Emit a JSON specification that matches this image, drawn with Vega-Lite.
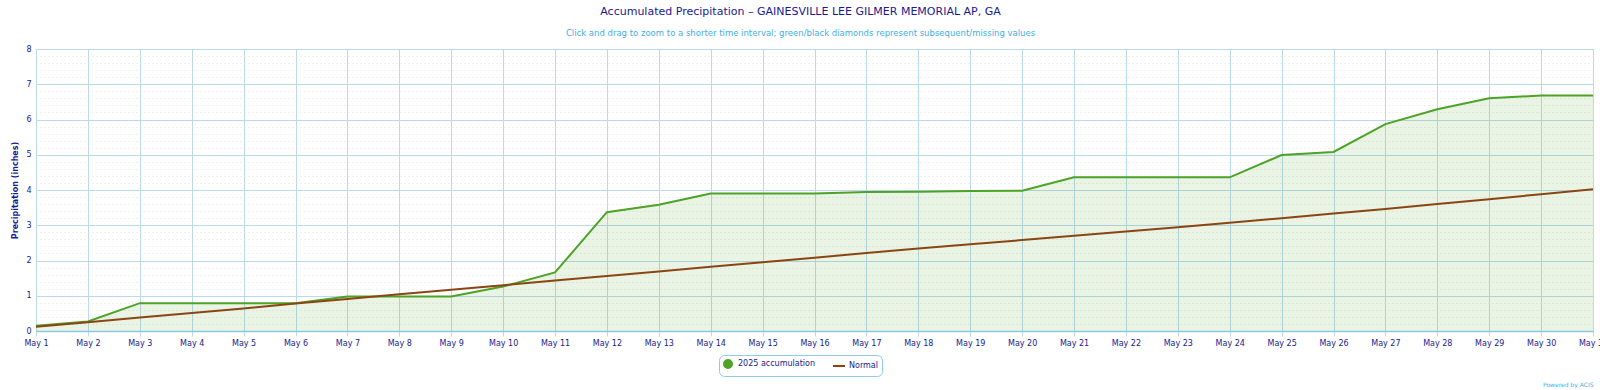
{
  "$schema": "https://vega.github.io/schema/vega-lite/v6.json",
  "width": 1557,
  "height": 282,
  "autosize": {"type": "none"},
  "padding": {"left": 36, "top": 49, "right": 7, "bottom": 59},
  "background": "white",
  "config": {"font": "DejaVu Sans", "view": {"stroke": null}},
  "title": {
    "text": "Accumulated Precipitation – GAINESVILLE LEE GILMER MEMORIAL AP, GA",
    "subtitle": "Click and drag to zoom to a shorter time interval; green/black diamonds represent subsequent/missing values",
    "fontSize": 11,
    "fontWeight": "normal",
    "color": "#1a1a90",
    "subtitleFontSize": 8.5,
    "subtitleColor": "#45aee6",
    "subtitlePadding": 12,
    "anchor": "middle",
    "frame": "group",
    "dx": -14,
    "offset": 8
  },
  "data": {
    "values": [
      {"date": "2025-05-01", "series": "2025 accumulation", "value": 0.15},
      {"date": "2025-05-02", "series": "2025 accumulation", "value": 0.27},
      {"date": "2025-05-03", "series": "2025 accumulation", "value": 0.79},
      {"date": "2025-05-04", "series": "2025 accumulation", "value": 0.79},
      {"date": "2025-05-05", "series": "2025 accumulation", "value": 0.79},
      {"date": "2025-05-06", "series": "2025 accumulation", "value": 0.79},
      {"date": "2025-05-07", "series": "2025 accumulation", "value": 0.98},
      {"date": "2025-05-08", "series": "2025 accumulation", "value": 0.98},
      {"date": "2025-05-09", "series": "2025 accumulation", "value": 0.98},
      {"date": "2025-05-10", "series": "2025 accumulation", "value": 1.26},
      {"date": "2025-05-11", "series": "2025 accumulation", "value": 1.66},
      {"date": "2025-05-12", "series": "2025 accumulation", "value": 3.37},
      {"date": "2025-05-13", "series": "2025 accumulation", "value": 3.58},
      {"date": "2025-05-14", "series": "2025 accumulation", "value": 3.9},
      {"date": "2025-05-15", "series": "2025 accumulation", "value": 3.9},
      {"date": "2025-05-16", "series": "2025 accumulation", "value": 3.9},
      {"date": "2025-05-17", "series": "2025 accumulation", "value": 3.94},
      {"date": "2025-05-18", "series": "2025 accumulation", "value": 3.95},
      {"date": "2025-05-19", "series": "2025 accumulation", "value": 3.97},
      {"date": "2025-05-20", "series": "2025 accumulation", "value": 3.98},
      {"date": "2025-05-21", "series": "2025 accumulation", "value": 4.36},
      {"date": "2025-05-22", "series": "2025 accumulation", "value": 4.36},
      {"date": "2025-05-23", "series": "2025 accumulation", "value": 4.36},
      {"date": "2025-05-24", "series": "2025 accumulation", "value": 4.36},
      {"date": "2025-05-25", "series": "2025 accumulation", "value": 4.99},
      {"date": "2025-05-26", "series": "2025 accumulation", "value": 5.08},
      {"date": "2025-05-27", "series": "2025 accumulation", "value": 5.87},
      {"date": "2025-05-28", "series": "2025 accumulation", "value": 6.29},
      {"date": "2025-05-29", "series": "2025 accumulation", "value": 6.6},
      {"date": "2025-05-30", "series": "2025 accumulation", "value": 6.68},
      {"date": "2025-05-31", "series": "2025 accumulation", "value": 6.68},
      {"date": "2025-05-01", "series": "Normal", "value": 0.12},
      {"date": "2025-05-02", "series": "Normal", "value": 0.25},
      {"date": "2025-05-03", "series": "Normal", "value": 0.38},
      {"date": "2025-05-04", "series": "Normal", "value": 0.51},
      {"date": "2025-05-05", "series": "Normal", "value": 0.64},
      {"date": "2025-05-06", "series": "Normal", "value": 0.78},
      {"date": "2025-05-07", "series": "Normal", "value": 0.91},
      {"date": "2025-05-08", "series": "Normal", "value": 1.04},
      {"date": "2025-05-09", "series": "Normal", "value": 1.17},
      {"date": "2025-05-10", "series": "Normal", "value": 1.3},
      {"date": "2025-05-11", "series": "Normal", "value": 1.43},
      {"date": "2025-05-12", "series": "Normal", "value": 1.56},
      {"date": "2025-05-13", "series": "Normal", "value": 1.69},
      {"date": "2025-05-14", "series": "Normal", "value": 1.82},
      {"date": "2025-05-15", "series": "Normal", "value": 1.95},
      {"date": "2025-05-16", "series": "Normal", "value": 2.08},
      {"date": "2025-05-17", "series": "Normal", "value": 2.21},
      {"date": "2025-05-18", "series": "Normal", "value": 2.34},
      {"date": "2025-05-19", "series": "Normal", "value": 2.46},
      {"date": "2025-05-20", "series": "Normal", "value": 2.58},
      {"date": "2025-05-21", "series": "Normal", "value": 2.7},
      {"date": "2025-05-22", "series": "Normal", "value": 2.82},
      {"date": "2025-05-23", "series": "Normal", "value": 2.94},
      {"date": "2025-05-24", "series": "Normal", "value": 3.07},
      {"date": "2025-05-25", "series": "Normal", "value": 3.2},
      {"date": "2025-05-26", "series": "Normal", "value": 3.33},
      {"date": "2025-05-27", "series": "Normal", "value": 3.46},
      {"date": "2025-05-28", "series": "Normal", "value": 3.6},
      {"date": "2025-05-29", "series": "Normal", "value": 3.74},
      {"date": "2025-05-30", "series": "Normal", "value": 3.88},
      {"date": "2025-05-31", "series": "Normal", "value": 4.02}
    ]
  },
  "encoding": {
    "x": {
      "field": "date",
      "type": "temporal",
      "scale": {"type": "utc"},
      "axis": {
        "labelExpr": "utcFormat(datum.value, '%b %-d')",
        "tickCount": {"interval": "day", "step": 1},
        "labelOverlap": false,
        "labelFlush": false,
        "grid": true,
        "gridColor": "#bcd9ec",
        "domainColor": "#8ec6e6",
        "domainWidth": 1.5,
        "tickColor": "#bcd9ec",
        "tickSize": 5,
        "labelPadding": 3,
        "labelFontSize": 8,
        "labelColor": "#1a1a90",
        "title": "Powered by ACIS",
        "titleFontSize": 6,
        "titleFontWeight": "normal",
        "titleColor": "#45aee6",
        "titleAnchor": "end",
        "titleAlign": "right",
        "titleBaseline": "middle",
        "titleY": 53
      }
    }
  },
  "layer": [
    {
      "transform": [{"filter": "datum.series === '2025 accumulation'"}],
      "mark": {"type": "area", "fill": "#4ca326", "fillOpacity": 0.12},
      "encoding": {
        "y": {
          "field": "value",
          "type": "quantitative",
          "scale": {"domain": [0, 8], "nice": false},
          "axis": {
            "orient": "right",
            "values": [0.2, 0.4, 0.6, 0.8, 1.2, 1.4, 1.6, 1.8, 2.2, 2.4, 2.6, 2.8, 3.2, 3.4, 3.6, 3.8, 4.2, 4.4, 4.6, 4.8, 5.2, 5.4, 5.6, 5.8, 6.2, 6.4, 6.6, 6.8, 7.2, 7.4, 7.6, 7.8],
            "grid": true,
            "gridColor": "#e0e0e0",
            "gridDash": [1, 3],
            "labels": false,
            "ticks": false,
            "domain": false,
            "title": null
          }
        }
      }
    },
    {
      "mark": {"type": "line", "strokeWidth": 2},
      "encoding": {
        "y": {
          "field": "value",
          "type": "quantitative",
          "scale": {"domain": [0, 8], "nice": false},
          "axis": {
            "orient": "left",
            "values": [0, 1, 2, 3, 4, 5, 6, 7, 8],
            "grid": true,
            "gridColor": "#bcd9ec",
            "domain": false,
            "ticks": false,
            "labelPadding": 5,
            "labelFontSize": 8,
            "labelColor": "#1a1a90",
            "title": "Precipitation (inches)",
            "titleFontSize": 8,
            "titleFontWeight": "bold",
            "titleColor": "#1a1a90",
            "titlePadding": 6
          }
        },
        "color": {
          "field": "series",
          "type": "nominal",
          "scale": {"domain": ["2025 accumulation", "Normal"], "range": ["#4ca326", "#8b4513"]},
          "legend": {
            "title": null,
            "orient": "none",
            "legendX": 683,
            "legendY": 306,
            "direction": "horizontal",
            "labelFontSize": 8,
            "labelColor": "#1a1a90",
            "symbolSize": 144,
            "padding": 4,
            "strokeColor": "#8fcbeb",
            "cornerRadius": 5,
            "fillColor": "white",
            "columnPadding": 14,
            "labelOffset": 5,
            "encode": {
              "symbols": {
                "update": {
                  "shape": {"signal": "datum.value === 'Normal' ? 'stroke' : 'circle'"},
                  "size": {"signal": "datum.value === 'Normal' ? 144 : 64"},
                  "fill": {"signal": "datum.value === 'Normal' ? 'transparent' : '#4ca326'"},
                  "stroke": {"signal": "datum.value === 'Normal' ? '#8b4513' : '#4ca326'"},
                  "strokeWidth": {"value": 2}
                }
              }
            }
          }
        }
      }
    }
  ],
  "resolve": {"axis": {"y": "independent"}}
}
